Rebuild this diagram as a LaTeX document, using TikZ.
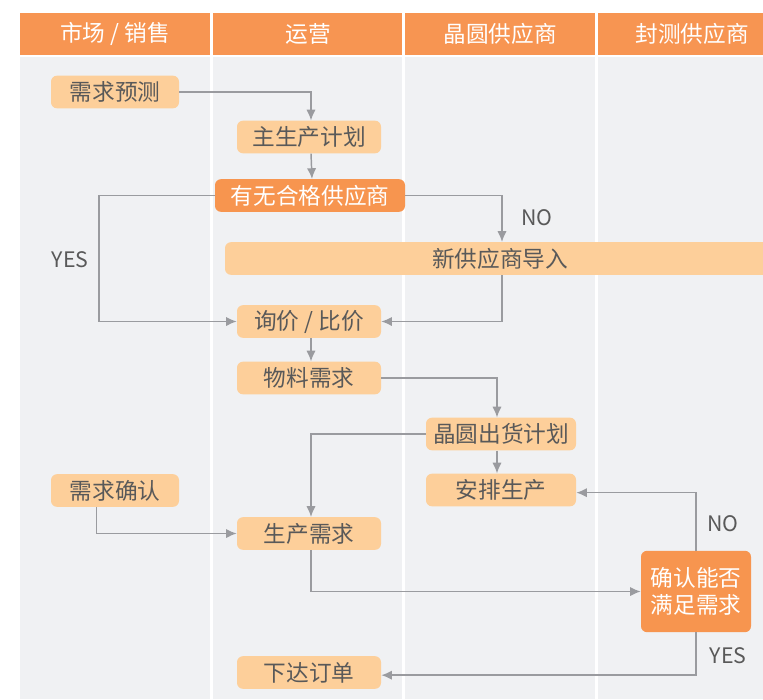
\documentclass[tikz,border=0pt]{standalone}
\usepackage{fontspec}
\setmainfont{Noto Sans CJK SC}
\usetikzlibrary{arrows.meta}

\definecolor{headorange}{HTML}{F79552}
\definecolor{lanegray}{HTML}{F0F1F3}
\definecolor{boxlight}{HTML}{FDCF9A}
\definecolor{boxdark}{HTML}{F7954F}
\definecolor{textgray}{HTML}{595959}
\definecolor{linegray}{HTML}{9A9B9F}

\tikzset{
    lanehead/.style={fill=headorange, text=white, font=\fontsize{17}{20}\selectfont},
    stepbox/.style={fill=boxlight, rounded corners=4.5pt, text=textgray,
        minimum height=24.5pt, inner sep=0pt, font=\fontsize{17}{20}\selectfont},
    decision/.style={stepbox, fill=boxdark, text=white},
    flow/.style={draw=linegray, line width=1.1pt, -{Latex[length=8pt,width=7pt]}},
    answer/.style={text=textgray, font=\fontsize{16}{19}\selectfont}
}

\begin{document}
\begin{tikzpicture}[x=0.75pt, y=-0.75pt]
    \useasboundingbox[fill=white] (0,0) rectangle (763,699);

    % lanes
    \fill[lanegray] (20,57) rectangle (210,699);
    \fill[lanegray] (213,57) rectangle (402,699);
    \fill[lanegray] (405,57) rectangle (595,699);
    \fill[lanegray] (598,57) rectangle (763,699);

    \fill[headorange] (20,13) rectangle (210,55);
    \fill[headorange] (213,13) rectangle (402,55);
    \fill[headorange] (405,13) rectangle (595,55);
    \fill[headorange] (598,13) rectangle (763,55);

    \node (H1) at (115,34) [lanehead] {市场 / 销售};
    \node (H2) at (308,34) [lanehead] {运营};
    \node (H3) at (500,34) [lanehead] {晶圆供应商};
    \node (H4) at (692,34) [lanehead] {封测供应商};

    % steps
    \node (xqyc) at (115,92) [stepbox, minimum width=96pt] {需求预测};
    \node (zscjh) at (309,137) [stepbox, minimum width=108pt] {主生产计划};
    \node (ywhg) at (310,195.5) [decision, minimum width=142.5pt] {有无合格供应商};
    \node (xgys) at (500,258.5) [stepbox, minimum width=412.5pt] {新供应商导入};
    \node (xjbj) at (309,321.5) [stepbox, minimum width=108pt] {询价 / 比价};
    \node (wlxq) at (309,378) [stepbox, minimum width=108pt] {物料需求};
    \node (jycc) at (501,434) [stepbox, minimum width=112.5pt] {晶圆出货计划};
    \node (apsc) at (501,490) [stepbox, minimum width=112.5pt] {安排生产};
    \node (xqqr) at (115,490.5) [stepbox, minimum width=96pt] {需求确认};
    \node (scxq) at (309,533.5) [stepbox, minimum width=108pt] {生产需求};
    \node (qrnf) at (696,591.5) [decision, minimum width=82.5pt, minimum height=61pt, align=center] {确认能否\\满足需求};
    \node (xddd) at (309,672.5) [stepbox, minimum width=108pt] {下达订单};

    % answers
    \node (yes1) at (70,260) [answer] {YES};
    \node (no1) at (537,218) [answer] {NO};
    \node (no2) at (723,524) [answer] {NO};
    \node (yes2) at (728,656) [answer] {YES};

    % connectors
    \draw[flow] (xqyc.east) -| ([xshift=1.5pt]zscjh.north);
    \draw[flow] ([xshift=1.5pt]zscjh.south) -- ([xshift=1.5pt]ywhg.north);
    \draw[flow] (ywhg.west) -- (99,195.5) |- (xjbj.west);
    \draw[flow] (ywhg.east) -| ([xshift=1.5pt]xgys.north);
    \draw[flow] ([xshift=1.5pt]xgys.south) |- (xjbj.east);
    \draw[flow] ([xshift=1.5pt]xjbj.south) -- ([xshift=1.5pt]wlxq.north);
    \draw[flow] (wlxq.east) -| ([xshift=-3pt]jycc.north);
    \draw[flow] (jycc.west) -| ([xshift=1.5pt]scxq.north);
    \draw[flow] ([xshift=-3pt]jycc.south) -- ([xshift=-3pt]apsc.north);
    \draw[flow] ([xshift=-14pt]xqqr.south) |- (scxq.west);
    \draw[flow] ([xshift=1.5pt]scxq.south) |- (qrnf.west);
    \draw[flow] (qrnf.north) |- ([yshift=-2pt]apsc.east);
    \draw[flow] (qrnf.south) |- ([yshift=-2pt]xddd.east);
\end{tikzpicture}
\end{document}
